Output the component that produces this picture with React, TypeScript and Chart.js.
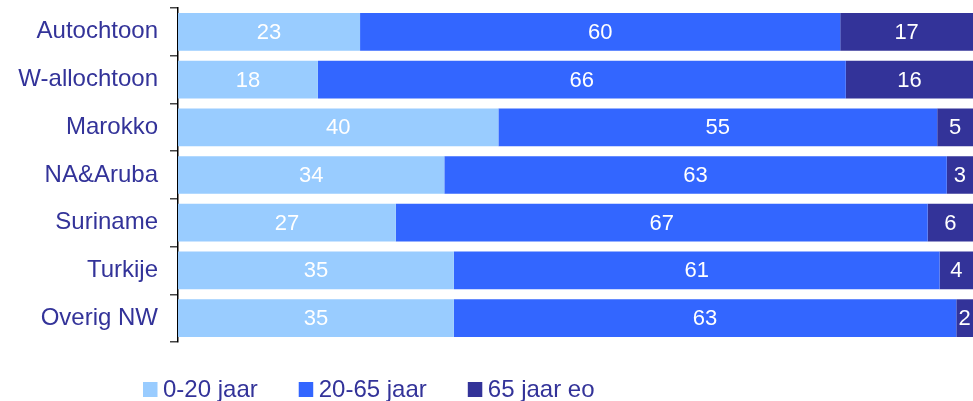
import React, { useEffect, useRef } from "react";
import { Chart, registerables } from "chart.js";

Chart.register(...registerables);

const categories = ["Autochtoon", "W-allochtoon", "Marokko", "NA&Aruba", "Suriname", "Turkije", "Overig NW"];
const seriesNames = ["0-20 jaar", "20-65 jaar", "65 jaar eo"];
// shares in % (labels show them rounded)
const young = [22.9, 17.6, 40.3, 33.5, 27.4, 34.7, 34.7];
const working = [60.4, 66.4, 55.2, 63.2, 66.9, 61.1, 63.2];
const old = [16.7, 16.0, 4.5, 3.3, 5.7, 4.2, 2.1];
const seriesColors = ["#99CCFF", "#3366FF", "#333399"];

const FONT = "Arial, 'Liberation Sans', sans-serif";
const NAVY = "#333399";

const labelPlugin = {
  id: "segLabels",
  afterDatasetsDraw(chart: any) {
    const ctx = chart.ctx;
    ctx.save();
    ctx.fillStyle = "#FFFFFF";
    ctx.font = `22px ${FONT}`;
    ctx.textAlign = "center";
    ctx.textBaseline = "middle";
    chart.data.datasets.forEach((ds: any, di: number) => {
      const meta = chart.getDatasetMeta(di);
      meta.data.forEach((bar: any, i: number) => {
        const x = (bar.x + bar.base) / 2;
        ctx.fillText(String(Math.round(ds.data[i])), x, bar.y + 1);
      });
    });
    ctx.restore();
  },
};

const legendPlugin = {
  id: "customLegend",
  afterDraw(chart: any) {
    const ctx = chart.ctx;
    ctx.save();
    ctx.font = `24px ${FONT}`;
    ctx.textBaseline = "middle";
    ctx.textAlign = "left";
    let x = 143;
    const yMid = 389.5;
    chart.data.datasets.forEach((ds: any) => {
      ctx.fillStyle = ds.backgroundColor;
      ctx.fillRect(x, yMid - 7.5, 14.5, 15);
      x += 20;
      ctx.fillStyle = NAVY;
      ctx.fillText(ds.label, x, yMid + 1);
      x += ctx.measureText(ds.label).width + 41;
    });
    ctx.restore();
  },
};

export default function App() {
  const ref = useRef<HTMLCanvasElement | null>(null);

  useEffect(() => {
    if (!ref.current) return;
    const values = [young, working, old];
    const chart = new Chart(ref.current, {
      type: "bar",
      data: {
        labels: categories,
        datasets: seriesNames.map((name, i) => ({
          label: name,
          data: values[i],
          backgroundColor: seriesColors[i],
          borderWidth: 0,
          barPercentage: 0.79,
          categoryPercentage: 1,
        })),
      },
      options: {
        indexAxis: "y",
        animation: false,
        responsive: false,
        maintainAspectRatio: false,
        layout: { padding: { top: 8, bottom: 59, left: 0, right: 0 } },
        plugins: {
          legend: { display: false },
          tooltip: { enabled: false },
        },
        scales: {
          x: {
            stacked: true,
            min: 0,
            max: 100,
            display: false,
          },
          y: {
            stacked: true,
            offset: true,
            afterFit: (scale: any) => {
              scale.width = 178;
              scale.paddingTop = 0;
              scale.paddingBottom = 0;
            },
            grid: {
              display: true,
              drawOnChartArea: false,
              drawTicks: true,
              tickLength: 8,
              offset: true,
              color: "#444444",
              lineWidth: 1.5,
            },
            border: { display: true, color: "#000000", width: 1.5 },
            ticks: {
              color: NAVY,
              padding: 12,
              font: { size: 24, family: FONT },
            },
          },
        },
      },
      plugins: [labelPlugin, legendPlugin],
    });
    return () => chart.destroy();
  }, []);

  return (
    <div style={{ position: "absolute", left: 0, top: 0, width: 973, height: 401, background: "#fff" }}>
      <canvas ref={ref} width={973} height={401} style={{ width: 973, height: 401, display: "block" }} />
    </div>
  );
}
